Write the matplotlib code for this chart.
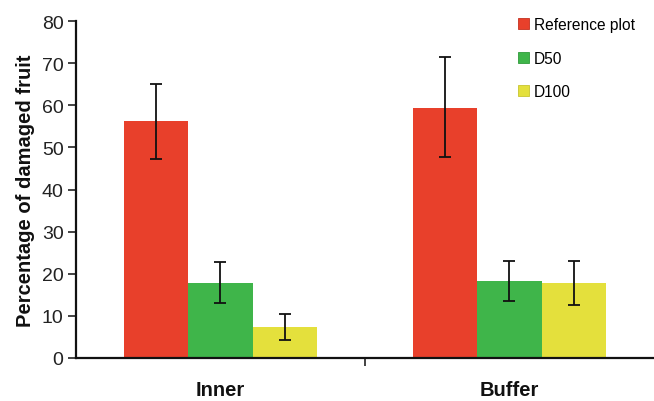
import matplotlib
matplotlib.use("Agg")
import matplotlib.pyplot as plt
from matplotlib.patches import Patch
import numpy as np

# values
SITES = ["Inner", "Buffer"]
SERIES = ["Reference plot", "D50", "D100"]
MEANS = [
    [56.2, 59.4],   # Reference plot
    [17.8, 18.4],   # D50
    [7.4, 17.8],    # D100
]
ERR_LO = [
    [47.2, 47.7],
    [13.0, 13.5],
    [4.3, 12.5],
]
ERR_HI = [
    [65.1, 71.4],
    [22.7, 23.1],
    [10.4, 23.1],
]
YTICKS = [0, 10, 20, 30, 40, 50, 60, 70, 80]

COLORS = ["#e8402b", "#3fb54a", "#e4e03c"]
EDGES = ["#c43020", "#2f9a3a", "#c8c430"]
FONT = "Liberation Sans"
W = 0.223

fig = plt.figure(figsize=(6.54, 4.02), dpi=100)
ax = fig.add_axes([0.1162, 0.107, 0.8838, 0.838])

x = np.arange(len(SITES))
for i, name in enumerate(SERIES):
    xs = x + (i - 1) * W
    m = np.array(MEANS[i])
    lo = m - np.array(ERR_LO[i])
    hi = np.array(ERR_HI[i]) - m
    ax.bar(xs, m, width=W, color=COLORS[i], edgecolor="none", zorder=2)
    ax.errorbar(xs, m, yerr=[lo, hi], fmt="none", ecolor="#111111",
                elinewidth=1.3, capsize=4, capthick=1.3, zorder=3)

ax.set_xlim(-0.5, 1.5)
ax.set_ylim(0, 80)
ax.set_yticks(YTICKS)
ax.set_yticklabels([str(t) for t in YTICKS], fontfamily=FONT, fontsize=14, color="#222222")
ax.set_xticks([0.5])
ax.set_xticklabels([""])
ax.tick_params(axis="x", direction="out", length=6, width=1.2, color="#222222")
ax.tick_params(axis="y", direction="out", length=6, width=1.2, color="#222222", pad=3)
for i, s in enumerate(SITES):
    ax.text(x[i], -7.4, s, ha="center", va="center", fontfamily=FONT,
            fontweight="bold", fontsize=14.5, color="#111111")

for sp in ["top", "right"]:
    ax.spines[sp].set_visible(False)
for sp in ["left", "bottom"]:
    ax.spines[sp].set_linewidth(1.6)
    ax.spines[sp].set_color("#111111")

ax.set_ylabel("Percentage of damaged fruit", fontfamily=FONT, fontweight="bold",
              fontsize=14.5, color="#111111", labelpad=5)

handles = [Patch(facecolor=COLORS[i], edgecolor=EDGES[i], lw=0.6) for i in range(3)]
leg = fig.legend(handles, SERIES, loc="upper left", bbox_to_anchor=(0.771, 0.99),
                 frameon=False, handlelength=0.7, handleheight=0.7, handletextpad=0.3,
                 labelspacing=1.2, prop={"family": FONT, "size": 11.2})

fig.savefig("out.png", facecolor="white")
